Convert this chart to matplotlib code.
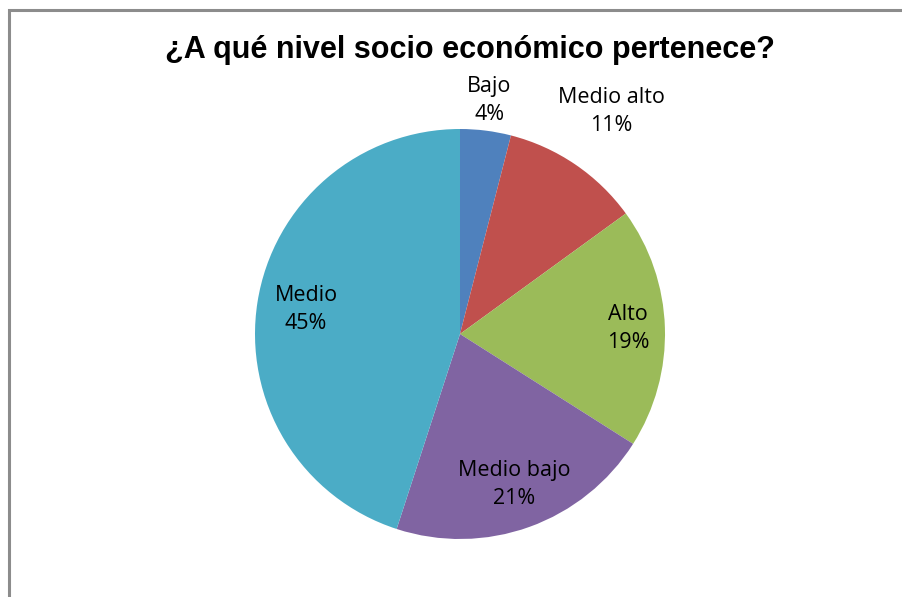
import matplotlib
matplotlib.use('Agg')
import matplotlib.pyplot as plt
import matplotlib.patches as patches
import numpy as np

# Nivel socioeconómico (porcentaje de respuestas)
categorias = ['Bajo', 'Medio alto', 'Alto', 'Medio bajo', 'Medio']
porcentajes = [4, 11, 19, 21, 45]
colores = ['#4F81BD', '#C0504D', '#9BBB59', '#8064A2', '#4BACC6']
# distancia radial de cada etiqueta (relativa al radio)
dist_etiquetas = [1.15, 1.31, 0.82, 0.78, 0.76]

W, H = 902, 597
fig = plt.figure(figsize=(W / 100, H / 100), dpi=100)
ax = fig.add_axes([0, 0, 1, 1])

# marco del gráfico
ax.add_patch(patches.Rectangle((9, -20), W + 20, H - 10 + 20, fc='white',
                               ec='#8c8c8c', lw=2.2, zorder=0))

centro = (460, H - 334)
radio = 205
wedges, _ = ax.pie(porcentajes, colors=colores, startangle=90, counterclock=False,
                   center=centro, radius=radio, frame=True,
                   wedgeprops=dict(lw=0))
ax.set_xlim(0, W)
ax.set_ylim(0, H)
ax.set_aspect('equal')
ax.axis('off')

for w, cat, p, d in zip(wedges, categorias, porcentajes, dist_etiquetas):
    ang = np.radians((w.theta1 + w.theta2) / 2)
    x = centro[0] + d * radio * np.cos(ang)
    y = centro[1] + d * radio * np.sin(ang)
    ax.text(x, y, f'{cat}\n{p}%', ha='center', va='center', fontsize=15.5,
            family='Open Sans', linespacing=1.45, color='black')

ax.text(470, H - 50, '¿A qué nivel socio económico pertenece?', ha='center', va='center',
        fontsize=22, fontweight='bold', family='Liberation Sans')

fig.savefig('out.png', dpi=100, facecolor='white')
